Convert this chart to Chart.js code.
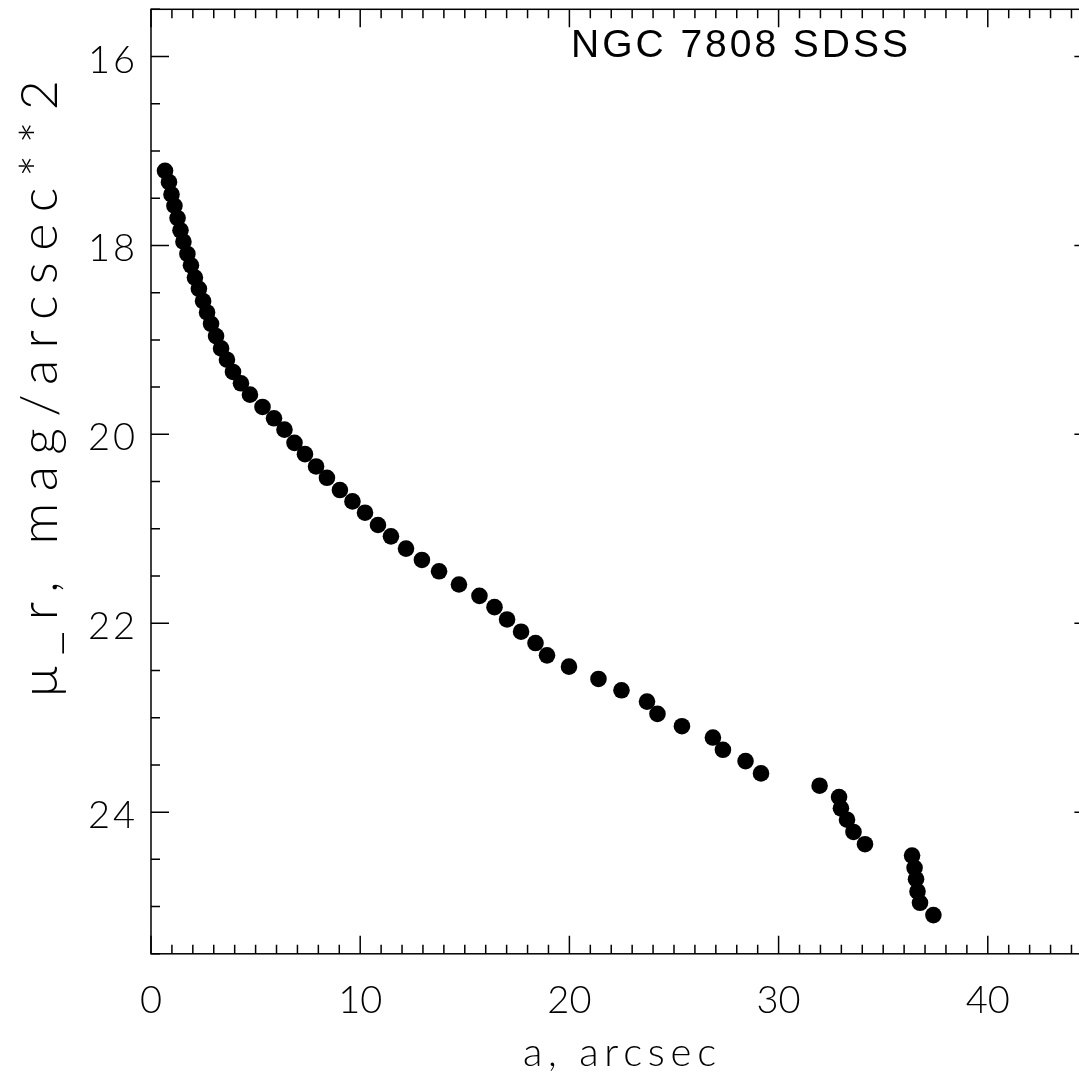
<!DOCTYPE html>
<html>
<head>
<meta charset="utf-8">
<title>NGC 7808 SDSS</title>
<script src="https://cdn.jsdelivr.net/npm/chart.js@4.4.1/dist/chart.umd.min.js"></script>
<style>
  html, body { margin: 0; padding: 0; background: #fff; }
  canvas { display: block; }
</style>
</head>
<body>
<canvas id="profile" width="1079" height="1073"></canvas>
<script>
// semi-major axis, arcsec
const radius = [
  0.67, 0.86, 0.98, 1.12, 1.27, 1.41, 1.55, 1.74, 1.91, 2.10,
  2.29, 2.49, 2.68, 2.87, 3.11, 3.35, 3.63, 3.92, 4.30, 4.73,
  5.33, 5.88, 6.38, 6.86, 7.36, 7.89, 8.41, 9.03, 9.63, 10.23,
  10.85, 11.47, 12.19, 12.95, 13.77, 14.72, 15.70, 16.42, 17.02, 17.69,
  18.38, 18.93, 19.98, 21.39, 22.49, 23.71, 24.21, 25.38, 26.86, 27.34,
  28.42, 29.16, 31.96, 32.89, 32.98, 33.27, 33.58, 34.13, 36.38, 36.50,
  36.57, 36.64, 36.76, 37.40
];
// surface brightness mu_r, mag/arcsec^2
const muR = [
  17.21, 17.33, 17.46, 17.58, 17.71, 17.84, 17.96, 18.09, 18.21, 18.34,
  18.46, 18.59, 18.71, 18.83, 18.96, 19.09, 19.21, 19.34, 19.46, 19.58,
  19.71, 19.83, 19.95, 20.09, 20.21, 20.34, 20.46, 20.59, 20.71, 20.83,
  20.96, 21.08, 21.21, 21.33, 21.45, 21.59, 21.71, 21.83, 21.96, 22.09,
  22.21, 22.34, 22.46, 22.59, 22.71, 22.83, 22.96, 23.09, 23.21, 23.34,
  23.46, 23.59, 23.72, 23.84, 23.96, 24.08, 24.21, 24.34, 24.46, 24.59,
  24.71, 24.84, 24.96, 25.09
];

const xTickLabels = [0, 10, 20, 30, 40];
const yTickLabels = [16, 18, 20, 22, 24];
const xMinorStep = 1;
const yMinorStep = 0.5;
const xFrameEnd = 45; // the right side of the frame lies just past the picture

const titleText = 'NGC 7808 SDSS';
const xTitle = 'a, arcsec';
const yTitle = '\u03bc_r, mag/arcsec**2';

// spread the letters so the text covers a given width, like the IDL font
function fitText(ctx, text, width) {
  ctx.letterSpacing = '0px';
  const w = ctx.measureText(text).width;
  ctx.letterSpacing = Math.max(0, (width - w) / (text.length - 1)) + 'px';
}

const idlFrame = {
  id: 'idlFrame',
  afterDraw(chart) {
    const ctx = chart.ctx;
    const area = chart.chartArea;
    const xs = chart.scales.x;
    const ys = chart.scales.y;
    const left = xs.getPixelForValue(0);
    const right = xs.getPixelForValue(xFrameEnd);

    ctx.save();
    ctx.strokeStyle = '#000';
    ctx.lineWidth = 1.5;
    ctx.strokeRect(left, area.top, right - left, area.bottom - area.top);

    ctx.beginPath();
    for (let v = 0; v <= xFrameEnd + 1e-6; v += xMinorStep) {
      const px = xs.getPixelForValue(v);
      const len = xTickLabels.includes(Math.round(v)) ? 18 : 9;
      ctx.moveTo(px, area.bottom);
      ctx.lineTo(px, area.bottom - len);
      ctx.moveTo(px, area.top);
      ctx.lineTo(px, area.top + len);
    }
    for (let v = ys.min; v <= ys.max + 1e-6; v += yMinorStep) {
      const py = ys.getPixelForValue(v);
      const len = yTickLabels.includes(v) ? 18 : 9;
      ctx.moveTo(left, py);
      ctx.lineTo(left + len, py);
      ctx.moveTo(right, py);
      ctx.lineTo(right - len, py);
    }
    ctx.stroke();

    ctx.fillStyle = '#000';
    ctx.font = "300 38px Lato, 'DejaVu Sans'";
    ctx.textBaseline = 'alphabetic';
    ctx.textAlign = 'center';
    xTickLabels.forEach(v => {
      ctx.fillText(String(v), xs.getPixelForValue(v), area.bottom + 59);
    });
    ctx.textAlign = 'right';
    yTickLabels.forEach(v => {
      ctx.letterSpacing = '3px';
      ctx.fillText(String(v), left - 13, ys.getPixelForValue(v) + 16);
    });

    ctx.textAlign = 'left';
    ctx.font = "300 40px Lato, 'DejaVu Sans'";
    fitText(ctx, xTitle, 193);
    ctx.fillText(xTitle, 523, 1066);

    ctx.save();
    ctx.translate(57, 697);
    ctx.rotate(-Math.PI / 2);
    ctx.font = "300 52px Lato, 'DejaVu Sans'";
    fitText(ctx, yTitle, 617);
    ctx.fillText(yTitle, 0, 0);
    ctx.restore();

    ctx.font = "39px 'Liberation Sans'";
    fitText(ctx, titleText, 337);
    ctx.fillText(titleText, 571, 57);
    ctx.restore();
  }
};

new Chart(document.getElementById('profile'), {
  type: 'scatter',
  data: {
    datasets: [{
      data: radius.map((r, i) => ({ x: r, y: muR[i] })),
      backgroundColor: '#000',
      borderWidth: 0,
      pointRadius: 8.3,
      pointHoverRadius: 8.3
    }]
  },
  options: {
    responsive: false,
    animation: false,
    layout: { autoPadding: false, padding: { left: 151, top: 9.3, right: 0, bottom: 119.2 } },
    plugins: { legend: { display: false }, tooltip: { enabled: false } },
    scales: {
      x: { type: 'linear', min: 0, max: 44.36, display: false },
      y: { type: 'linear', min: 15.5, max: 25.5, reverse: true, display: false }
    }
  },
  plugins: [idlFrame]
});
</script>
</body>
</html>
